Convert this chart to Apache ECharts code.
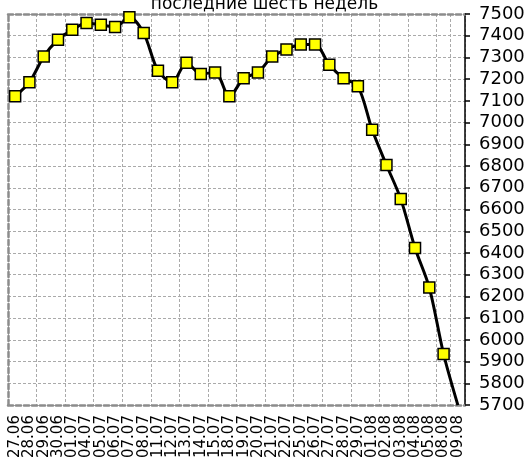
<!DOCTYPE html>
<html><head><meta charset="utf-8">
<script src="https://cdn.jsdelivr.net/npm/echarts@6/dist/echarts.min.js"></script>
<style>html,body{margin:0;padding:0;background:#fff}#c{width:529px;height:461px}</style>
</head><body><div id="c"></div>
<script>
const titleText = 'последние шесть недель';
const categories = ['27.06','28.06','29.06','30.06','01.07','04.07','05.07','06.07','07.07','08.07','11.07','12.07','13.07','14.07','15.07','18.07','19.07','20.07','21.07','22.07','25.07','26.07','27.07','28.07','29.07','01.08','02.08','03.08','04.08','05.08','08.08','09.08'];
const values = [7121,7186,7304,7382,7427,7458,7450,7440,7485,7412,7239,7186,7276,7224,7231,7121,7204,7231,7304,7337,7360,7360,7266,7204,7168,6967,6805,6649,6423,6241,5935,5700];
const yTicks = {min:5700, max:7500, step:100};

const chart = echarts.init(document.getElementById('c'));
const borderStyle = {color:'#8c8c8c', width:2.5, type:[5,3]};
const gridLine = {color:'#aaaaaa', width:1, type:[3,2]};
const data = values.map((v,i)=> i===values.length-1 ? {value:v, symbol:'none'} : v);
chart.setOption({
  animation:false,
  title:{text:titleText, left:'center', top:-9, textStyle:{fontFamily:'DejaVu Sans', fontSize:17, fontWeight:'normal', color:'#000'}},
  grid:{left:8, right:64, top:14, bottom:50, containLabel:false},
  xAxis:[{
    type:'category', data:categories, boundaryGap:true, position:'bottom',
    axisLine:{lineStyle:borderStyle}, axisTick:{show:false, interval:1},
    axisLabel:{interval:0, rotate:90, margin:10, fontFamily:'DejaVu Sans', fontSize:15, color:'#000'},
    splitLine:{show:true, interval:1, lineStyle:gridLine}
  },{
    type:'category', data:categories, position:'top', boundaryGap:true,
    axisLine:{lineStyle:borderStyle}, axisTick:{show:false}, axisLabel:{show:false}, splitLine:{show:false}
  }],
  yAxis:[{
    type:'value', position:'right', min:yTicks.min, max:yTicks.max, interval:yTicks.step,
    axisLine:{show:true, lineStyle:{color:'#000', width:1.5}},
    axisTick:{show:true, length:5, lineStyle:{color:'#000', width:1.5}},
    axisLabel:{margin:14, fontFamily:'DejaVu Sans', fontSize:18, color:'#000', formatter:(v)=>String(v)},
    splitLine:{show:true, lineStyle:gridLine}
  },{
    type:'value', position:'left', min:yTicks.min, max:yTicks.max, interval:yTicks.step,
    axisLine:{show:true, lineStyle:borderStyle}, axisTick:{show:false}, axisLabel:{show:false}, splitLine:{show:false}
  }],
  series:[{
    type:'line', data:data, smooth:0.3, yAxisIndex:0,
    lineStyle:{color:'#000', width:3},
    symbol:'rect', symbolSize:11, showAllSymbol:true,
    itemStyle:{color:'#ffff00', borderColor:'#000', borderWidth:1.5},
    z:3
  }]
});
</script></body></html>
